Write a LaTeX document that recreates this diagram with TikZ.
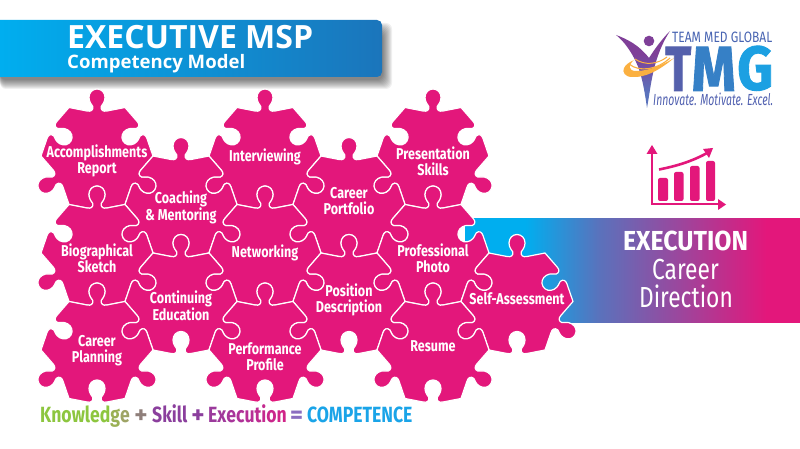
\documentclass[tikz,border=0pt]{standalone}
\usepackage{fontspec}
\setmainfont{Fira Sans}
\newfontfamily\condf[FakeStretch=0.8]{Fira Sans}
\newfontfamily\narrowf[FakeStretch=0.785]{Fira Sans}
\newfontfamily\slimf[FakeStretch=0.65]{Fira Sans}
\newfontfamily\titlef{Open Sans}
\definecolor{mspink}{HTML}{E3177B}
\definecolor{mscyan}{HTML}{00AEEF}
\definecolor{msblue}{HTML}{1B75BB}
\definecolor{msmid}{HTML}{5A72BC}
\definecolor{mspurple}{HTML}{7F3F98}
\definecolor{msyellow}{HTML}{FBB040}
\definecolor{fgreen}{HTML}{8DC63F}
\definecolor{fskill}{HTML}{8B3F9D}
\definecolor{fplus}{HTML}{8F7F7A}
\definecolor{fequal}{HTML}{8A6CC0}
\definecolor{fcomp}{HTML}{1AA4E8}
\pgfdeclarehorizontalshading{bandgrad}{100bp}{color(0bp)=(mscyan); color(34bp)=(mscyan); color(45bp)=(msmid); color(70bp)=(mspink); color(100bp)=(mspink)}
\pgfdeclarehorizontalshading{titlegrad}{100bp}{color(0bp)=(mscyan); color(25bp)=(mscyan); color(75bp)=(msblue); color(100bp)=(msblue)}
\pgfdeclareverticalshading{persongrad}{100bp}{color(0bp)=(msmid); color(35bp)=(msmid); color(60bp)=(mspurple); color(100bp)=(mspurple)}
\tikzset{
  x=1pt,y=1pt,
  pieceshape/.style={fill=mspink,draw=white,line width=1.2pt,line join=round},
  piecelabel/.style={text=white,align=center,inner sep=0pt,font=\condf\bfseries\fontsize{15.7}{16}\selectfont},
  chartpart/.style={fill=mspink,draw=none},
  chartline/.style={draw=mspink,line width=2pt},
  wordpart/.style={inner sep=0pt,anchor=base west,font=\condf\bfseries\fontsize{22}{24}\selectfont},
  signpart/.style={inner sep=0pt,anchor=base,font=\bfseries\fontsize{25}{26}\selectfont},
}
% one edge of a regular hexagon: #1 rotation, #2 = 1 knob, -1 socket
\def\ed#1#2{
 -- ([rotate=#1]-10,{48.5+(#2)*(-3.5)})
 .. controls ([rotate=#1]-6,{48.5+(#2)*(-4.4)}) and ([rotate=#1]-3.6,{48.5+(#2)*(-2.6)}) .. ([rotate=#1]-4.2,{48.5+(#2)*(1)})
 .. controls ([rotate=#1]-5,{48.5+(#2)*(3)}) and ([rotate=#1]-8,{48.5+(#2)*(5)}) .. ([rotate=#1]-8,{48.5+(#2)*(10)})
 .. controls ([rotate=#1]-8,{48.5+(#2)*(15)}) and ([rotate=#1]-4.4,{48.5+(#2)*(18.5)}) .. ([rotate=#1]0,{48.5+(#2)*(18.5)})
 .. controls ([rotate=#1]4.4,{48.5+(#2)*(18.5)}) and ([rotate=#1]8,{48.5+(#2)*(15)}) .. ([rotate=#1]8,{48.5+(#2)*(10)})
 .. controls ([rotate=#1]8,{48.5+(#2)*(5)}) and ([rotate=#1]5,{48.5+(#2)*(3)}) .. ([rotate=#1]4.2,{48.5+(#2)*(1)})
 .. controls ([rotate=#1]3.6,{48.5+(#2)*(-2.6)}) and ([rotate=#1]6,{48.5+(#2)*(-4.4)}) .. ([rotate=#1]10,{48.5+(#2)*(-3.5)})
 -- ([rotate=#1]28,48.5)
}
\newcommand\piece[2]{\begin{scope}[shift={(#1,{449-#2})}]
 \path[pieceshape] (-28,48.5) \ed{0}{1} \ed{-60}{-1} \ed{-120}{1} \ed{-180}{-1} \ed{-240}{1} \ed{-300}{-1} -- cycle;
 \end{scope}}
\begin{document}
\begin{tikzpicture}
\useasboundingbox (0,0) rectangle (800,449);
\fill[white] (0,0) rectangle (800,449);
% title shadow
\foreach \e in {0,1,...,9}{
  \fill[black,opacity=0.06,rounded corners=6pt] (0,{449-77-12+\e}) rectangle ({392-\e},{449-20-3-\e});
}
\path[shading=titlegrad] (0,429) [rounded corners=5pt] -- (382,429) -- (382,372) [sharp corners] -- (0,372) -- cycle;
\node[anchor=base west,inner sep=0pt,text=white] (title) at (67,400) {\resizebox{246pt}{!}{\titlef\bfseries\fontsize{30}{32}\selectfont EXECUTIVE MSP}};
\node[anchor=base west,inner sep=0pt,text=white] (subtitle) at (67,380) {\resizebox{178pt}{!}{\titlef\bfseries\fontsize{19}{22}\selectfont Competency Model}};
% band
\path[shading=bandgrad] (465,231) rectangle (800,126);
\fill[white] (465,230.8) rectangle (800,235);
\fill[white] (465,126.2) rectangle (800,122);
\node[anchor=base,inner sep=0pt,text=white] (exec) at (685.5,198) {\resizebox{125pt}{19.5pt}{\bfseries EXECUTION}};
\node[anchor=base,inner sep=0pt,text=white] (career) at (685.5,169) {\narrowf\fontsize{29}{30}\selectfont Career};
\node[anchor=base,inner sep=0pt,text=white] (direction) at (686,141) {\narrowf\fontsize{29}{30}\selectfont Direction};
% puzzle
\piece{97}{156}\piece{265}{156}\piece{433}{156}
\piece{181}{204.5}\piece{349}{204.5}
\piece{97}{253}\piece{265}{253}\piece{433}{253}
\piece{181}{301.5}\piece{349}{301.5}\piece{517}{301.5}
\piece{97}{350}\piece{265}{350}\piece{433}{350}
\node[piecelabel] (accomplishments) at (97,288.5) {Accomplishments\\Report};
\node[piecelabel] (coaching) at (181,241.5) {Coaching\\\& Mentoring};
\node[piecelabel] (interviewing) at (265,292) {Interviewing};
\node[piecelabel] (portfolio) at (349,248) {Career\\Portfolio};
\node[piecelabel] (presentation) at (433,288) {Presentation\\Skills};
\node[piecelabel] (biographical) at (97,191) {Biographical\\Sketch};
\node[piecelabel] (networking) at (265,196) {Networking};
\node[piecelabel] (professional) at (433,191) {Professional\\Photo};
\node[piecelabel] (continuing) at (181,143.5) {Continuing\\Education};
\node[piecelabel] (position) at (349,149) {Position\\Description};
\node[piecelabel] (selfassess) at (517,150) {Self-Assessment};
\node[piecelabel] (planning) at (97,98) {Career\\Planning};
\node[piecelabel] (performance) at (265,92) {Performance\\Profile};
\node[piecelabel] (resume) at (433,103) {Resume};
% bottom formula
\node[wordpart,text=fgreen] (w1) at (40,26) {Knowled\textcolor[HTML]{9AB055}{g}\textcolor[HTML]{9EA465}{e}};
\node[signpart,text=fplus] (p1) at (141,25) {+};
\node[wordpart,text=fskill] (w2) at (152,26) {Skill};
\node[signpart,text=fskill] (p2) at (198,25) {+};
\node[wordpart] (w3) at (208,26) {\textcolor[HTML]{9B3A9C}{E}\textcolor[HTML]{A1389B}{x}\textcolor[HTML]{A8359A}{e}\textcolor[HTML]{AF3298}{c}\textcolor[HTML]{B62F96}{u}\textcolor[HTML]{BE2C92}{t}\textcolor[HTML]{C42A8F}{i}\textcolor[HTML]{CA278C}{o}\textcolor[HTML]{D02488}{n}};
\node[signpart,text=fequal] (e1) at (296.5,25) {=};
\node[wordpart,text=fcomp] (w4) at (307,26) {COMPETENCE};
% logo figure
\path[shading=persongrad] (616,414) .. controls (627,410) and (639,404) .. (649,391)
  .. controls (656,402) and (663,411) .. (670,418)
  .. controls (662,406) and (657,392) .. (654,380) .. controls (651,368) and (649,352) .. (647,341)
  .. controls (645,355) and (642,375) .. (636,387) .. controls (632,396) and (624,408) .. cycle;
\fill[mspurple] (649,408) circle (5.3);
\fill[msyellow] (674,391) .. controls (660,379) and (645,371) .. (632,372) .. controls (625,372) and (622,377) .. (624,381) .. controls (626,385) and (630,387) .. (634,389) .. controls (628,384) and (628,378) .. (636,378) .. controls (650,378) and (664,385) .. cycle;
\draw[msyellow,line width=1.1pt] (629,385) .. controls (640,376) and (658,380) .. (670,391);
\draw[msyellow,line width=1pt] (635,390) .. controls (645,383) and (658,385) .. (667,392);
% logo text
\node[anchor=base west,inner sep=0pt,text={rgb,255:red,72;green,100;blue,178}] (team) at (672,406) {\resizebox{100pt}{10.5pt}{\fontsize{15}{16}\selectfont TEAM MED GLOBAL}};
\node[anchor=south west,inner sep=0pt,text={rgb,255:red,84;green,96;blue,172}] (tmgt) at (665,358) {\resizebox{26pt}{44pt}{\addfontfeature{FakeBold=1.5}\bfseries T}};
\node[anchor=south west,inner sep=0pt,text={rgb,255:red,54;green,128;blue,198}] (tmgm) at (691.5,358) {\resizebox{44pt}{44pt}{\addfontfeature{FakeBold=1.5}\bfseries M}};
\node[anchor=south west,inner sep=0pt,text={rgb,255:red,28;green,160;blue,226}] (tmgg) at (737,358) {\resizebox{36pt}{44pt}{\addfontfeature{FakeBold=1.5}\bfseries G}};
\node[anchor=base west,inner sep=0pt,text={rgb,255:red,80;green,96;blue,176}] (slogan) at (653,343) {\resizebox{120pt}{12.5pt}{\slimf\itshape\fontsize{18}{18}\selectfont Innovate. Motivate. Excel.}};
% chart icon
\draw[chartline] (652,298) -- (652,244.5) -- (720,244.5);
\fill[chartpart] (652,304) -- (657.5,295) -- (646.5,295) -- cycle;
\fill[chartpart] (726,244.5) -- (718,250) -- (718,239) -- cycle;
\fill[chartpart,rounded corners=2pt] (658,248) rectangle (668,271);
\fill[chartpart,rounded corners=2pt] (674,248) rectangle (683.5,277);
\fill[chartpart,rounded corners=2pt] (690,248) rectangle (699.5,283);
\fill[chartpart,rounded corners=2pt] (706,248) rectangle (715,288);
\draw[chartline,line width=2.6pt] (659,279.5) .. controls (677,283) and (693,288) .. (708,296.5);
\fill[chartpart] (713,301) -- (703,300) -- (709,291) -- cycle;
\end{tikzpicture}
\end{document}
